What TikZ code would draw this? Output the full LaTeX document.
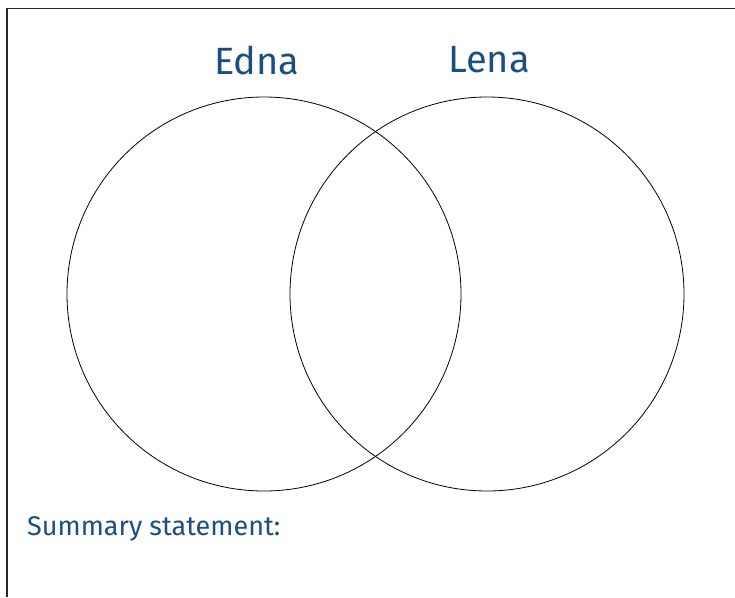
\documentclass[tikz,border=0pt]{standalone}
\usepackage{fontspec}
\setmainfont{Fira Sans}
\usepackage{xcolor}
\usepackage{tikz}
\usetikzlibrary{positioning}
\definecolor{corTitulo}{RGB}{28, 78, 130}

\begin{document}
\begin{tikzpicture}[x=1pt, y=-1pt,
    conj/.style={draw, circle, line width=0.8pt, minimum size=394pt, inner sep=0pt},
    nome/.style={text=corTitulo, font=\fontsize{38}{42}\selectfont, inner sep=0pt},
    resumo/.style={text=corTitulo, font=\fontsize{27}{30}\selectfont, inner sep=0pt, anchor=west}
]
\useasboundingbox (0,0) rectangle (735,597);
\draw[line width=1.5pt, black!85] (7,597) -- (7,8.5) -- (735,8.5);

\node[conj] (edna) at (264,294) {};
\node[conj] (lena) at (487,294) {};

\node[nome] (tEdna) at (257,60) {Edna};
\node[nome] (tLena) at (489,60) {Lena};

\node[resumo] (resumo) at (27,529) {Summary statement:};
\end{tikzpicture}
\end{document}
